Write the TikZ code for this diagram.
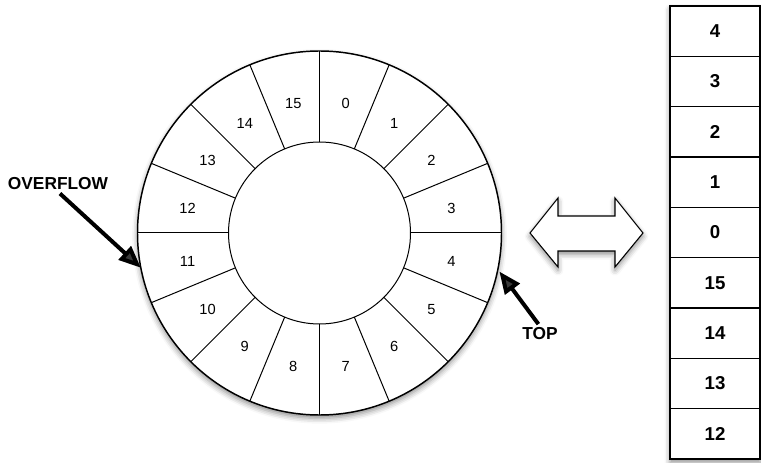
\documentclass[tikz,border=0pt]{standalone}
\usepackage{fontspec}
\setmainfont{Liberation Sans}
\usetikzlibrary{arrows.meta,shadows.blur,calc}
\begin{document}
\begin{tikzpicture}[x=0.75pt,y=-0.75pt,
  ringlbl/.style={font=\fontsize{11}{13}\selectfont, inner sep=0pt},
  cell/.style={draw, fill=white, minimum width=67.5pt, minimum height=37.75pt, line width=0.8pt,
    font=\bfseries\fontsize{14}{16}\selectfont, inner sep=0pt},
  callout/.style={font=\bfseries\fontsize{13}{15}\selectfont, inner sep=1pt},
  pointer/.style={line width=3pt, -{Triangle[length=16.5pt,width=13.5pt]}},
  shade/.style={blur shadow={shadow xshift=0pt, shadow yshift=-2.5pt, shadow blur radius=4pt, shadow opacity=45}}]
\useasboundingbox (0,0) rectangle (761,463);
% ring
\coordinate (c) at (319.5,233);
\coordinate (lc) at (319.5,235);
\draw[shade, fill=white, line width=1.1pt] (c) circle[radius=136.5pt];
\draw[line width=0.75pt] (c) circle[radius=68.25pt];
\foreach \k in {0,...,15}
  \draw[line width=0.75pt] ($(c)+(90-22.5*\k:68.25pt)$) -- ($(c)+(90-22.5*\k:136.5pt)$);
\foreach \k in {0,...,15}
  \node[ringlbl] (s\k) at ($(lc)+(78.75-22.5*\k:100.9pt)$) {\k};
% stack
\draw[shade, fill=white, line width=0.8pt] (670,6) rectangle (760,459);
\foreach \v [count=\i from 0] in {4,3,2,1,0,15,14,13,12}
  \node[cell] (t\v) at (715,{31.17+50.33*\i}) {\v};
% double arrow
\draw[shade, fill=white, line width=0.8pt]
  (530,233) -- (558,198) -- (558,216) -- (615,216) -- (615,198) -- (643,233)
  -- (615,267) -- (615,251) -- (558,251) -- (558,267) -- cycle;
% callouts
\node[callout] (ovf) at (58,184) {OVERFLOW};
\coordinate (ovftip) at ($(c)+(191:136.5pt)$);
\draw[pointer, shorten <=2pt] (ovf.south) -- (ovftip);
\node[callout] (top) at (540,334) {TOP};
\coordinate (toptip) at ($(c)+(-12.1:138pt)$);
\draw[pointer, shorten <=2pt] (top.north) -- (toptip);
\end{tikzpicture}
\end{document}
